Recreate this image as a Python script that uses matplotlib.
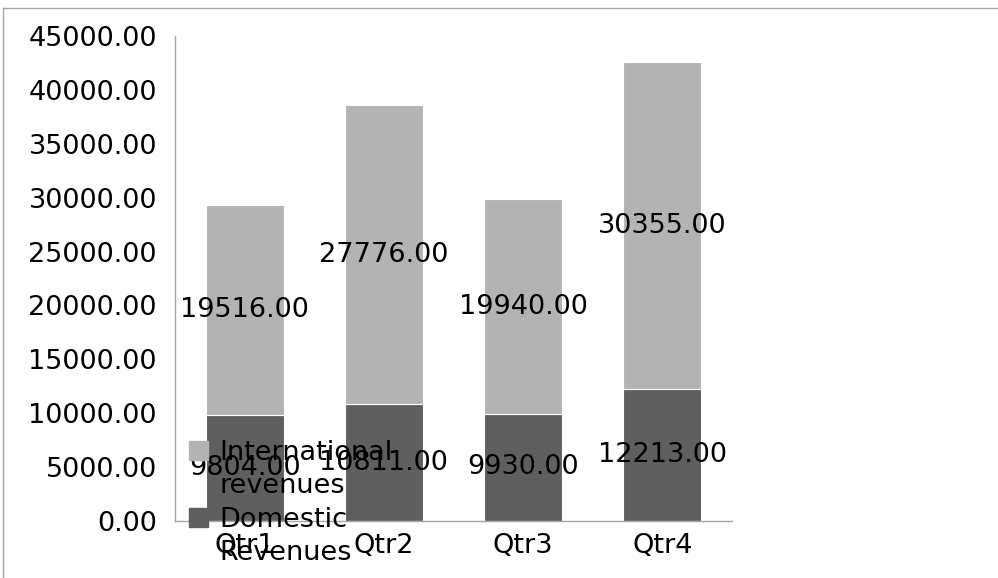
import matplotlib
matplotlib.use("Agg")
import matplotlib.pyplot as plt
from matplotlib.lines import Line2D
from matplotlib.patches import Rectangle

quarters = ["Qtr1", "Qtr2", "Qtr3", "Qtr4"]
domestic = [9804.00, 10811.00, 9930.00, 12213.00]
international = [19516.00, 27776.00, 19940.00, 30355.00]
yticks = [0, 5000, 10000, 15000, 20000, 25000, 30000, 35000, 40000, 45000]

DOM_C = "#5f5f5f"
INT_C = "#b3b3b3"
FS = 19.5

fig = plt.figure(figsize=(9.98, 5.78), dpi=100)
ax = fig.add_axes([175 / 998, 57 / 578, 557 / 998, 485 / 578])

x = range(len(quarters))
b1 = ax.bar(x, domestic, width=0.56, color=DOM_C, edgecolor="white", linewidth=0.8)
b2 = ax.bar(x, international, width=0.56, bottom=domestic, color=INT_C,
            edgecolor="white", linewidth=0.8)
ax.bar_label(b1, labels=[f"{v:.2f}" for v in domestic], label_type="center", fontsize=FS)
ax.bar_label(b2, labels=[f"{v:.2f}" for v in international], label_type="center", fontsize=FS)

ax.set_xlim(-0.5, 3.5)
ax.set_ylim(0, 45000)
ax.set_yticks(yticks)
ax.set_yticklabels([f"{v:.2f}" for v in yticks])
ax.set_xticks(list(x))
ax.set_xticklabels(quarters)
ax.tick_params(axis="both", length=0, labelsize=FS)
ax.tick_params(axis="y", pad=13)
ax.tick_params(axis="x", pad=9)
for s in ["top", "right"]:
    ax.spines[s].set_visible(False)
for s in ["left", "bottom"]:
    ax.spines[s].set_color("#a6a6a6")
    ax.spines[s].set_linewidth(1.0)

# legend drawn by hand so the swatch sits on the first text line
fig.add_artist(Rectangle((189 / 998, 1 - 460 / 578), 19 / 998, 19 / 578,
                         transform=fig.transFigure, color=INT_C))
fig.add_artist(Rectangle((189 / 998, 1 - 527 / 578), 19 / 998, 19 / 578,
                         transform=fig.transFigure, color=DOM_C))
# va="baseline" pins the last line's baseline
fig.text(219 / 998, 1 - 493 / 578, "International\nrevenues", va="baseline",
         fontsize=FS, linespacing=1.33)
fig.text(219 / 998, 1 - 560 / 578, "Domestic\nRevenues", va="baseline",
         fontsize=FS, linespacing=1.33)

# outer frame (top and left edges)
fig.add_artist(Line2D([3 / 998, 1], [1 - 8 / 578, 1 - 8 / 578],
                      transform=fig.transFigure, color="#a6a6a6", lw=1))
fig.add_artist(Line2D([3 / 998, 3 / 998], [0, 1 - 8 / 578],
                      transform=fig.transFigure, color="#a6a6a6", lw=1))

fig.savefig("out.png", dpi=100)
